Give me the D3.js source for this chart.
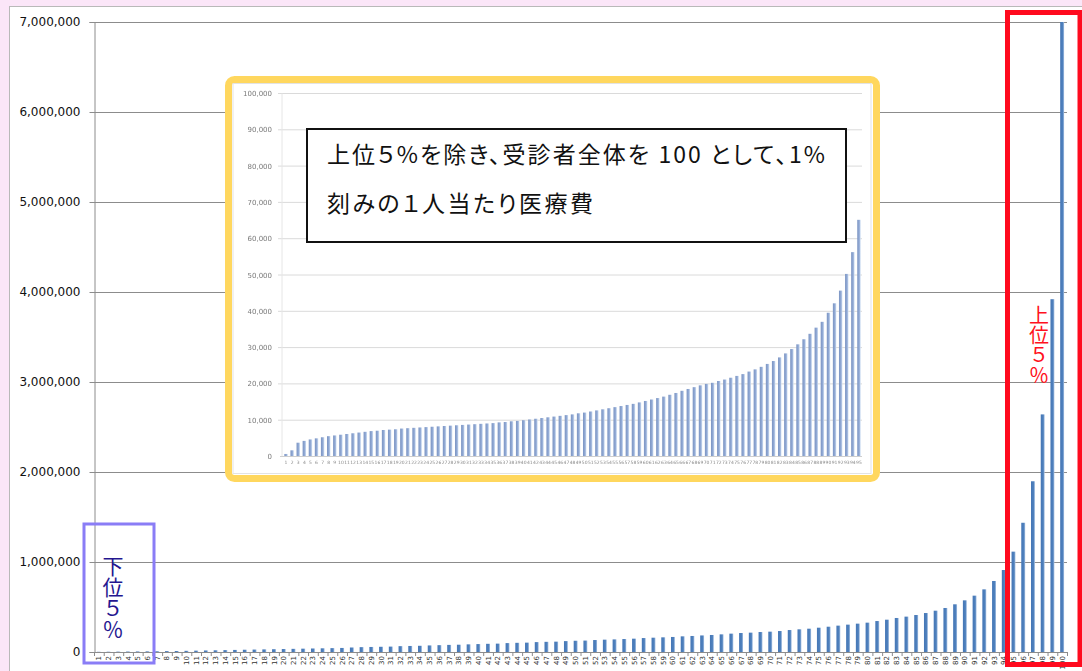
<!DOCTYPE html>
<html>
<head>
<meta charset="utf-8">
<script src="https://cdn.jsdelivr.net/npm/d3@7"></script>
<style>
  html, body { margin: 0; padding: 0; background: #fbe6f8; }
  svg { display: block; }
  .vlabel { writing-mode: vertical-rl; text-orientation: upright; }
</style>
</head>
<body>
<svg id="chart" width="1082" height="671"></svg>
<script>
// Percentile groups 1..100 (each 1% of patients, sorted by cost)
const categories = d3.range(1, 101).map(String);

// Per-person medical cost for each 1% group (yen)
const costValues = [
  2000, 3000, 4000, 5000, 6000, 7000, 8000, 10000, 11000, 13000,
  15000, 17000, 19000, 21000, 23000, 25000, 27000, 29000, 31000, 33000,
  35000, 37000, 39000, 41000, 43000, 45000, 50000, 54000, 56000, 58000,
  60000, 65000, 67000, 69000, 73000, 76000, 79000, 81000, 85000, 88000,
  91000, 93000, 99000, 102000, 104000, 110000, 113000, 115000, 121000, 125000,
  127000, 133000, 137000, 140000, 144000, 148000, 155000, 159000, 163000, 167000,
  174000, 178000, 184000, 189000, 196000, 204000, 211000, 215000, 222000, 226000,
  233000, 244000, 252000, 259000, 270000, 281000, 293000, 304000, 315000, 326000,
  344000, 359000, 378000, 393000, 411000, 433000, 459000, 489000, 530000, 574000,
  626000, 696000, 789000, 911000, 1115000, 1436000, 1897000, 2640000, 3920000, 7000000
];

// Y axis tick values
const yTicks = [0, 1000000, 2000000, 3000000, 4000000, 5000000, 6000000, 7000000];

// Inset: the same distribution without the top 5% (groups 1..95)
const insetCategories = d3.range(1, 96).map(String);
const insetValues = [
  700, 1700, 3800, 4300, 4700, 5000, 5300, 5600, 5800, 6000,
  6200, 6400, 6600, 6800, 7000, 7100, 7300, 7400, 7500, 7700,
  7800, 7900, 8000, 8100, 8200, 8300, 8400, 8500, 8600, 8700,
  8800, 8900, 9000, 9100, 9200, 9400, 9500, 9700, 9800, 10000,
  10200, 10400, 10600, 10800, 11000, 11200, 11400, 11600, 11900, 12100,
  12400, 12700, 13000, 13300, 13600, 13900, 14200, 14500, 14900, 15300,
  15700, 16100, 16500, 17000, 17500, 18100, 18600, 19100, 19600, 20000,
  20300, 20800, 21200, 21700, 22200, 22700, 23400, 24000, 24700, 25500,
  26300, 27300, 28400, 29600, 30900, 32300, 33800, 35500, 37100, 39600,
  42200, 45700, 50300, 56300, 65200
];
const insetTicks = d3.range(0, 100001, 10000);

// Texts
const noteLines = ["上位５%を除き、受診者全体を 100 として、1%", "刻みの１人当たり医療費"];
const noteWidths = [498, 266];
const bottomLabel = "下位５％";
const topLabel = "上位５％";

const svg = d3.select("#chart");
const fmt = d3.format(",");
const cjk = "'Noto Sans CJK JP', 'Noto Sans', sans-serif";

// ---------- defs ----------
const defs = svg.append("defs");
const g1 = defs.append("linearGradient").attr("id", "barGrad").attr("x1", "0").attr("x2", "1").attr("y1", "0").attr("y2", "0");
g1.append("stop").attr("offset", "0%").attr("stop-color", "#4677b6");
g1.append("stop").attr("offset", "65%").attr("stop-color", "#4f81bd");
g1.append("stop").attr("offset", "100%").attr("stop-color", "#a9c2e3");
const g2 = defs.append("linearGradient").attr("id", "insetGrad").attr("x1", "0").attr("x2", "1").attr("y1", "0").attr("y2", "0");
g2.append("stop").attr("offset", "0%").attr("stop-color", "#7b94c2");
g2.append("stop").attr("offset", "60%").attr("stop-color", "#93abd6");
g2.append("stop").attr("offset", "100%").attr("stop-color", "#d3e2f4");
defs.append("filter").attr("id", "soft").attr("x", "-5%").attr("y", "-5%").attr("width", "110%").attr("height", "110%")
  .append("feGaussianBlur").attr("stdDeviation", 0.6);

// ---------- panel ----------
svg.append("rect").attr("x", 9.5).attr("y", 6.5).attr("width", 1090).attr("height", 680)
  .attr("fill", "#ffffff").attr("stroke", "#b9b9b9").attr("stroke-width", 1);

// ---------- main chart ----------
const plotLeft = 94, plotRight = 1067, plotTop = 22, plotBottom = 652;
const x = d3.scaleBand().domain(categories).range([plotLeft, plotRight]).padding(0);
const y = d3.scaleLinear().domain([0, 7000000]).range([plotBottom, plotTop]);

// gridlines
svg.append("g").selectAll("line").data(yTicks.filter(d => d > 0)).join("line")
  .attr("x1", plotLeft).attr("x2", plotRight)
  .attr("y1", d => Math.round(y(d)) + 0.5).attr("y2", d => Math.round(y(d)) + 0.5)
  .attr("stroke", "#8c8c8c").attr("stroke-width", 1);

// y axis
const yAxis = svg.append("g").attr("transform", `translate(${plotLeft + 0.5},0)`)
  .call(d3.axisLeft(y).tickValues(yTicks).tickFormat(fmt).tickSize(5).tickPadding(9));
yAxis.select(".domain").attr("stroke", "#8c8c8c");
yAxis.selectAll(".tick line").attr("stroke", "#8c8c8c");
yAxis.selectAll(".tick text").attr("fill", "#111").style("font-family", "'DejaVu Sans', Verdana, sans-serif").style("font-size", "12px");

// bars
const bw = x.bandwidth();
svg.append("g").selectAll("rect").data(categories).join("rect")
  .attr("x", (d) => x(d) + bw * 0.3)
  .attr("width", bw * 0.4)
  .attr("y", (d, i) => y(costValues[i]))
  .attr("height", (d, i) => plotBottom - y(costValues[i]))
  .attr("fill", "url(#barGrad)");

// x axis line and boundary ticks
svg.append("line").attr("x1", plotLeft).attr("x2", plotRight)
  .attr("y1", plotBottom + 0.5).attr("y2", plotBottom + 0.5).attr("stroke", "#8c8c8c");
svg.append("g").selectAll("line").data(categories.concat(["end"])).join("line")
  .attr("x1", d => (d === "end" ? plotRight : x(d)) + 0.5)
  .attr("x2", d => (d === "end" ? plotRight : x(d)) + 0.5)
  .attr("y1", plotBottom).attr("y2", plotBottom + 4)
  .attr("stroke", "#8c8c8c");
svg.append("g").selectAll("text").data(categories).join("text")
  .attr("transform", d => `translate(${x(d) + bw / 2 + 2.5},${plotBottom + 4}) rotate(-90)`)
  .attr("text-anchor", "end")
  .style("font-family", "'DejaVu Sans', Verdana, sans-serif")
  .style("font-size", "7px")
  .attr("fill", "#333")
  .text(d => d);

// ---------- inset chart ----------
const inset = svg.append("g");
inset.append("rect").attr("x", 228.5).attr("y", 79.5).attr("width", 648).attr("height", 399)
  .attr("rx", 6).attr("fill", "#ffffff").attr("stroke", "#ffd75e").attr("stroke-width", 7);

const insetChart = inset.append("g").attr("filter", "url(#soft)");
insetChart.append("rect").attr("x", 233).attr("y", 83.5).attr("width", 638).attr("height", 390)
  .attr("fill", "#ffffff").attr("stroke", "#e3e3e3");
const ix = d3.scaleBand().domain(insetCategories).range([283, 862]).padding(0);
const iy = d3.scaleLinear().domain([0, 100000]).range([456.5, 93.5]);

insetChart.append("g").selectAll("line").data(insetTicks.filter(d => d > 0)).join("line")
  .attr("x1", 278).attr("x2", 862)
  .attr("y1", d => iy(d)).attr("y2", d => iy(d))
  .attr("stroke", "#dadada").attr("stroke-width", 1);
insetChart.append("line").attr("x1", 282).attr("x2", 282).attr("y1", 93.5).attr("y2", 456.5)
  .attr("stroke", "#e6e6e6");
insetChart.append("g").selectAll("text").data(insetTicks).join("text")
  .attr("x", 272).attr("y", d => iy(d) + 2.5)
  .attr("text-anchor", "end")
  .style("font-family", "'DejaVu Sans', sans-serif").style("font-size", "7px")
  .attr("fill", "#7a7a7a")
  .text(fmt);
const ibw = ix.bandwidth();
insetChart.append("g").selectAll("rect").data(insetCategories).join("rect")
  .attr("x", d => ix(d) + ibw * 0.22)
  .attr("width", ibw * 0.56)
  .attr("y", (d, i) => iy(insetValues[i]))
  .attr("height", (d, i) => 456.5 - iy(insetValues[i]))
  .attr("fill", "url(#insetGrad)");
insetChart.append("line").attr("x1", 280).attr("x2", 862).attr("y1", 456.5).attr("y2", 456.5).attr("stroke", "#cfcfcf");
insetChart.append("g").selectAll("text").data(insetCategories).join("text")
  .attr("x", d => ix(d) + ibw / 2).attr("y", 464)
  .attr("text-anchor", "middle")
  .style("font-family", "'DejaVu Sans', sans-serif").style("font-size", "4.5px")
  .attr("fill", "#8a8a8a")
  .text(d => d);

// note box
svg.append("rect").attr("x", 307).attr("y", 129).attr("width", 539).attr("height", 113)
  .attr("fill", "#ffffff").attr("stroke", "#111").attr("stroke-width", 2);
svg.append("g").selectAll("text").data(noteLines).join("text")
  .attr("x", 327).attr("y", (d, i) => 162.5 + i * 49)
  .attr("textLength", (d, i) => noteWidths[i])
  .attr("lengthAdjust", "spacing")
  .style("font-family", cjk).style("font-size", "23px")
  .style("font-feature-settings", "'palt' 1")
  .attr("fill", "#111")
  .text(d => d);

// ---------- highlight boxes ----------
svg.append("rect").attr("x", 84).attr("y", 524).attr("width", 70).attr("height", 139)
  .attr("fill", "none").attr("stroke", "#8a7df6").attr("stroke-width", 3);
svg.append("text").attr("class", "vlabel")
  .attr("x", 113).attr("y", 556)
  .style("font-family", cjk).style("font-size", "21px")
  .attr("fill", "#24168f")
  .text(bottomLabel);

svg.append("rect").attr("x", 1007.5).attr("y", 12.5).attr("width", 72.5).attr("height", 652)
  .attr("fill", "none").attr("stroke", "#ff0a1e").attr("stroke-width", 5);
svg.append("text").attr("class", "vlabel")
  .attr("x", 1039).attr("y", 305)
  .style("font-family", cjk).style("font-size", "20px")
  .attr("fill", "#ff1020")
  .text(topLabel);
</script>
</body>
</html>
